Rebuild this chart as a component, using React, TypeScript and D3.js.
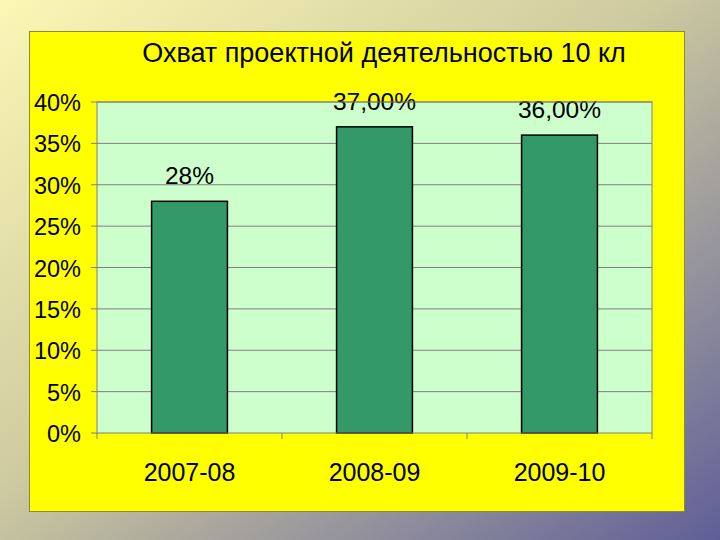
import React from "react";
import * as d3 from "d3";

const categories = ["2007-08", "2008-09", "2009-10"];
const values = [0.28, 0.37, 0.36];
const valueLabels = ["28%", "37,00%", "36,00%"];
const yTicks = [0, 0.05, 0.1, 0.15, 0.2, 0.25, 0.3, 0.35, 0.4];
const title = "Охват проектной деятельностью 10 кл";

export default function App() {
  const W = 720, H = 540;
  const plot = { left: 97, right: 652, top: 102, bottom: 433 };
  const x = d3.scaleBand().domain(categories).range([plot.left, plot.right]).paddingInner(0.59).paddingOuter(0.295);
  const xc = d3.scaleBand().domain(categories).range([plot.left, plot.right]);
  const y = d3.scaleLinear().domain([0, 0.4]).range([plot.bottom, plot.top]);
  const fmt = (v: number) => `${Math.round(v * 100)}%`;
  const font = "'Liberation Sans', Arial, sans-serif";
  return (
    <svg width={W} height={H} style={{ position: "absolute", left: 0, top: 0 }} fontFamily={font}>
      <defs>
        <linearGradient id="bg" x1="0" y1="0" x2="1" y2="1">
          <stop offset="0" stopColor="#fbf7b4" />
          <stop offset="0.45" stopColor="#cfcba0" />
          <stop offset="1" stopColor="#5f5f98" />
        </linearGradient>
      </defs>
      <rect x={0} y={0} width={W} height={H} fill="url(#bg)" />
      <rect x={29.5} y={31.5} width={655} height={480} fill="#ffff00" stroke="#8a8a3a" strokeWidth={1} />
      <text x={384} y={62} textAnchor="middle" fontSize={27} fill="#000">{title}</text>
      <rect x={plot.left} y={plot.top} width={plot.right - plot.left} height={plot.bottom - plot.top} fill="#ccffcc" />
      {yTicks.map((t) => (
        <g key={t}>
          {t > 0 && <line x1={plot.left} x2={plot.right} y1={y(t)} y2={y(t)} stroke="#808080" strokeWidth={1} />}
          <line x1={plot.left - 6} x2={plot.left} y1={y(t)} y2={y(t)} stroke="#808080" strokeWidth={1} />
          <text x={81} y={y(t) + 9} textAnchor="end" fontSize={23.5} fill="#000">{fmt(t)}</text>
        </g>
      ))}
      {categories.map((c, i) => (
        <g key={c}>
          <line x1={xc(c)!} x2={xc(c)!} y1={plot.bottom} y2={plot.bottom + 6} stroke="#808080" />
          <rect x={x(c)!} y={y(values[i])} width={x.bandwidth()} height={plot.bottom - y(values[i])} fill="#339966" stroke="#000" strokeWidth={1.5} />
          <text x={x(c)! + x.bandwidth() / 2} y={y(values[i]) - 17} textAnchor="middle" fontSize={24.5} fill="#000">{valueLabels[i]}</text>
          <text x={xc(c)! + xc.bandwidth() / 2} y={481} textAnchor="middle" fontSize={25} fill="#000">{c}</text>
        </g>
      ))}
      <line x1={plot.right} x2={plot.right} y1={plot.bottom} y2={plot.bottom + 6} stroke="#808080" />
      <rect x={plot.left} y={plot.top} width={plot.right - plot.left} height={plot.bottom - plot.top} fill="none" stroke="#808080" strokeWidth={1} />
    </svg>
  );
}
